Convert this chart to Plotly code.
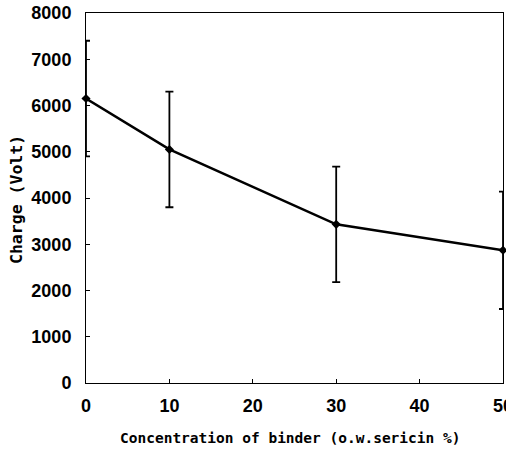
import plotly.graph_objects as go

conc = [0, 10, 30, 50]
charge = [6150, 5050, 3430, 2870]
err = [1250, 1250, 1250, 1270]
x_ticks = [0, 10, 20, 30, 40, 50]
y_ticks = [0, 1000, 2000, 3000, 4000, 5000, 6000, 7000, 8000]

fig = go.Figure()
fig.add_trace(go.Scatter(
    x=conc, y=charge, mode="lines+markers",
    line=dict(color="black", width=2.5),
    marker=dict(symbol="diamond", size=7, color="black"),
    error_y=dict(type="data", array=err, visible=True, color="black", thickness=1.8, width=4),
    showlegend=False, cliponaxis=False,
))

tickfont = dict(family="Liberation Sans Narrow, Liberation Sans, Arial", size=18, color="black", weight="bold")
fig.update_layout(
    width=506, height=452,
    margin=dict(l=86, r=3, t=13, b=69),
    paper_bgcolor="white", plot_bgcolor="white",
    xaxis=dict(
        range=[0, 50], tickvals=x_ticks, ticks="inside", ticklen=4, tickcolor="black",
        showline=True, linecolor="black", linewidth=1, mirror=True,
        showgrid=False, zeroline=False, tickfont=tickfont, ticklabelstandoff=6,
        ticklabeloverflow="allow", automargin=False,
    ),
    yaxis=dict(
        range=[0, 8000], tickvals=y_ticks, ticks="inside", ticklen=4, tickcolor="black",
        showline=True, linecolor="black", linewidth=1, mirror=True,
        showgrid=False, zeroline=False, tickfont=tickfont, ticklabelstandoff=10,
        automargin=False,
    ),
    annotations=[
        dict(text="Concentration of binder (o.w.sericin %)", xref="paper", yref="paper",
             x=(290 - 86) / 417, y=-(438 - 383) / 370, xanchor="center", yanchor="middle",
             showarrow=False, font=dict(family="DejaVu Sans Mono", size=14.5, color="black", weight="bold")),
        dict(text="Charge (Volt)", xref="paper", yref="paper", textangle=-90,
             x=-(86 - 17) / 417, y=(383 - 200) / 370, xanchor="center", yanchor="middle",
             showarrow=False, font=dict(family="DejaVu Sans Mono", size=16.5, color="black", weight="bold")),
    ],
)
fig.write_html("out.html")
